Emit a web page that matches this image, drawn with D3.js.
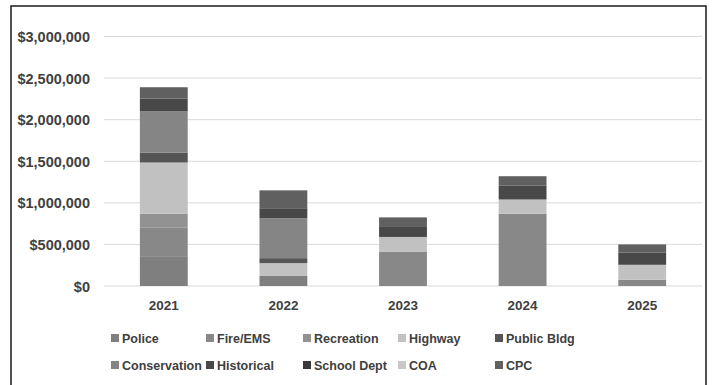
<!DOCTYPE html>
<html><head><meta charset="utf-8">
<script src="https://cdn.jsdelivr.net/npm/d3@7"></script>
<style>body{margin:0;background:#fff}svg{display:block}</style>
</head><body>
<script>
const years = ["2021","2022","2023","2024","2025"];
const seriesNames = ["Police","Fire/EMS","Recreation","Highway","Public Bldg","Conservation","Historical","School Dept","COA","CPC"];
const seriesColors = ["#7f7f7f","#888888","#929292","#c1c1c1","#555555","#858585","#484848","#3a3a3a","#c8c8c8","#606060"];
const police      = [350000, 120000,      0,      0,     0];
const fireEms     = [350000,      0, 410000, 870000, 75000];
const recreation  = [170000,      0,      0,      0,     0];
const highway     = [615000, 155000, 180000, 170000, 180000];
const publicBldg  = [120000,  60000,      0,      0,     0];
const conservation= [495000, 480000,      0,      0,     0];
const historical  = [155000, 120000, 120000, 170000, 145000];
const schoolDept  = [     0,      0,      0,      0,     0];
const coa         = [     0,      0,      0,      0,     0];
const cpc         = [135000, 215000, 115000, 110000, 100000];
const yTicks = [0,500000,1000000,1500000,2000000,2500000,3000000];

const seriesValues = [police,fireEms,recreation,highway,publicBldg,conservation,historical,schoolDept,coa,cpc];
const rows = years.map((y,i)=>{const r={year:y}; seriesNames.forEach((s,j)=>r[s]=seriesValues[j][i]); return r;});

const W=715,H=385;
const svg=d3.select("body").append("svg").attr("width",W).attr("height",H);
svg.append("rect").attr("x",11).attr("y",6).attr("width",695).attr("height",385).attr("fill","#fff").attr("stroke","#1a1a1a").attr("stroke-width",1.5);

const x=d3.scaleBand().domain(years).range([104,702]).paddingInner(0.6).paddingOuter(0.3);
const y=d3.scaleLinear().domain([0,3000000]).range([286,36.5]);
const font="'Liberation Sans', Arial, sans-serif";

// gridlines
svg.append("g").selectAll("line").data(yTicks).join("line")
  .attr("x1",104).attr("x2",702).attr("y1",d=>y(d)).attr("y2",d=>y(d))
  .attr("stroke","#d9d9d9").attr("stroke-width",1);

// y axis labels via d3 axis
const yAxis=d3.axisLeft(y).tickValues(yTicks).tickSize(0).tickPadding(0)
  .tickFormat(d=>"$"+d3.format(",")(d));
const gy=svg.append("g").attr("transform","translate(90,0)").call(yAxis);
gy.select(".domain").remove();
gy.selectAll("text").attr("font-family",font).attr("font-weight","bold").attr("font-size","14.5px").attr("fill","#404040").attr("dy","0.35em");

// bars
const stack=d3.stack().keys(seriesNames)(rows);
svg.append("g").selectAll("g").data(stack).join("g")
  .attr("fill",(d,i)=>seriesColors[i])
  .selectAll("rect").data(d=>d).join("rect")
  .attr("x",d=>x(d.data.year)).attr("width",x.bandwidth())
  .attr("y",d=>y(d[1])).attr("height",d=>y(d[0])-y(d[1]));

// x axis labels
const xAxis=d3.axisBottom(x).tickSize(0).tickPadding(0);
const gx=svg.append("g").attr("transform","translate(0,300)").call(xAxis);
gx.select(".domain").remove();
gx.selectAll("text").attr("font-family",font).attr("font-weight","bold").attr("font-size","13.5px").attr("fill","#404040").attr("dy","0.71em");

// legend
const legX=[111,206,303,398,495];
const legY=[338,365];
const lg=svg.append("g");
seriesNames.forEach((s,i)=>{
  const cx=legX[i%5], cy=legY[Math.floor(i/5)];
  lg.append("rect").attr("x",cx).attr("y",cy-4).attr("width",8).attr("height",8).attr("fill",seriesColors[i]);
  lg.append("text").attr("x",cx+11).attr("y",cy).attr("dy","0.36em").text(s)
    .attr("font-family",font).attr("font-weight","bold").attr("font-size","12.5px").attr("fill","#404040");
});
</script>
</body></html>
